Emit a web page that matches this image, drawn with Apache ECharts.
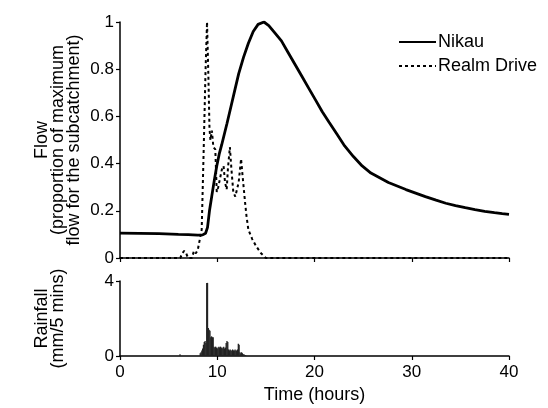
<!DOCTYPE html>
<html>
<head>
<meta charset="utf-8">
<script src="https://cdn.jsdelivr.net/npm/echarts@6/dist/echarts.min.js"></script>
<style>html,body{margin:0;padding:0;background:#fff}#c{width:548px;height:408px}</style>
</head>
<body>
<div id="c"></div>
<script>
// Time (hours), flow as proportion of max
const nikau = [[0,0.105],[2,0.104],[4,0.103],[6,0.1],[7,0.099],[8,0.097],[8.5,0.098],[8.8,0.105],[9.0,0.13],[9.2,0.2],[9.43,0.26],[9.7,0.33],[9.95,0.39],[10.2,0.44],[10.46,0.48],[10.7,0.52],[11.0,0.57],[11.4,0.64],[11.8,0.71],[12.2,0.78],[12.7,0.85],[13.2,0.91],[13.7,0.96],[14.2,0.99],[14.8,1.0],[15.3,0.985],[15.9,0.955],[16.6,0.92],[17.3,0.87],[18.0,0.82],[18.7,0.77],[19.4,0.72],[20.1,0.67],[20.8,0.62],[21.5,0.575],[22.3,0.525],[23.1,0.475],[24.0,0.43],[24.9,0.39],[25.8,0.36],[26.7,0.34],[27.6,0.32],[28.5,0.305],[29.4,0.29],[30.4,0.275],[31.4,0.26],[32.5,0.245],[33.5,0.232],[34.5,0.222],[35.5,0.213],[36.5,0.205],[37.5,0.198],[38.5,0.192],[39.3,0.188],[40,0.185]];
const realm = [[0,0],[6.2,0],[6.4,0.02],[6.6,0.03],[6.8,0.02],[7.0,0],[7.4,0],[7.6,0.03],[7.8,0.02],[8.0,0.035],[8.2,0.04],[8.4,0.12],[8.6,0.45],[8.8,0.8],[8.95,1.0],[9.1,0.75],[9.2,0.55],[9.3,0.5],[9.45,0.54],[9.6,0.47],[9.8,0.46],[9.95,0.28],[10.1,0.3],[10.3,0.34],[10.5,0.38],[10.65,0.39],[10.8,0.32],[10.97,0.29],[11.1,0.38],[11.3,0.47],[11.45,0.38],[11.65,0.28],[11.85,0.26],[12.0,0.26],[12.2,0.32],[12.45,0.42],[12.6,0.35],[12.85,0.24],[13.0,0.18],[13.2,0.12],[13.6,0.08],[14.0,0.05],[14.5,0.02],[15.0,0],[40,0]];
// Rainfall (mm / 5 mins), 5-minute steps starting at 8.25 h
const rainStart = 8.25;
const rainValues = [0.15,0.2,0.3,0.4,0.6,0.75,0.8,0.7,3.9,3.9,1.5,1.4,1.35,1.0,1.05,1.0,1.0,0.5,0.45,0.5,0.45,0.4,0.45,0.5,0.45,0.5,0.45,0.4,0.45,0.5,0.4,0.45,0.7,0.8,0.75,0.35,0.3,0.35,0.3,0.3,0.35,0.3,0.3,0.35,0.3,0.3,0.35,0.65,0.6,0.2,0.15,0.2,0.15,0.1,0.1,0.05,0.05];
const rainExtra = [[6.17,0.1]];

const rain = rainValues.map((v,i)=>[+(rainStart + i/12).toFixed(3), v]).concat(rainExtra);

const FONT = 'Liberation Sans';
const FS = 18;
const LFS = 17;
const axisCommon = {
  axisLine:{show:true,lineStyle:{color:'#000',width:1.5}},
  axisTick:{show:true,length:4,lineStyle:{color:'#000',width:1.2}},
  splitLine:{show:false},
  axisLabel:{color:'#000',fontFamily:FONT,fontSize:LFS,margin:6}
};
const chart = echarts.init(document.getElementById('c'),null,{renderer:'canvas'});
chart.setOption({
  animation:false,
  backgroundColor:'#fff',
  legend:{
    orient:'vertical', left:398, top:33, itemWidth:37, itemHeight:12, itemGap:6, padding:0,
    itemStyle:{opacity:0},
    textStyle:{color:'#000',fontFamily:FONT,fontSize:FS,padding:[0,0,0,-3]},
    data:['Nikau','Realm Drive']
  },
  grid:[
    {left:120, top:22, width:389, height:236},
    {left:120, top:281, width:389, height:75}
  ],
  xAxis:[
    Object.assign({},axisCommon,{gridIndex:0,type:'value',min:0,max:40,interval:10,axisLabel:{show:false}}),
    Object.assign({},axisCommon,{gridIndex:1,type:'value',min:0,max:40,interval:10,
      axisLabel:{color:'#000',fontFamily:FONT,fontSize:LFS,margin:8},
      name:'Time (hours)',nameLocation:'middle',nameGap:30,nameMoveOverlap:false,
      nameTextStyle:{color:'#000',fontFamily:FONT,fontSize:FS}})
  ],
  yAxis:[
    Object.assign({},axisCommon,{gridIndex:0,type:'value',min:0,max:1,interval:0.2,
      name:'Flow\n(proportion of maximum\nflow for the subcatchment)',nameLocation:'middle',nameGap:38,nameRotate:90,nameMoveOverlap:false,
      nameTextStyle:{color:'#000',fontFamily:FONT,fontSize:FS,lineHeight:16}}),
    Object.assign({},axisCommon,{gridIndex:1,type:'value',min:0,max:4,interval:4,
      name:'Rainfall\n(mm/5 mins)',nameLocation:'middle',nameGap:54,nameRotate:90,nameMoveOverlap:false,
      nameTextStyle:{color:'#000',fontFamily:FONT,fontSize:FS,lineHeight:16}})
  ],
  series:[
    {name:'Realm Drive',type:'line',xAxisIndex:0,yAxisIndex:0,data:realm,symbol:'none',
      lineStyle:{color:'#000',width:2,type:[3,3]},itemStyle:{color:'#000'},z:3},
    {name:'Nikau',type:'line',xAxisIndex:0,yAxisIndex:0,data:nikau,symbol:'none',
      lineStyle:{color:'#000',width:2.8},itemStyle:{color:'#000'},z:4},
    {name:'Rainfall',type:'bar',xAxisIndex:1,yAxisIndex:1,data:rain,barWidth:1.3,
      itemStyle:{color:'#222'}}
  ]
});
</script>
</body>
</html>
